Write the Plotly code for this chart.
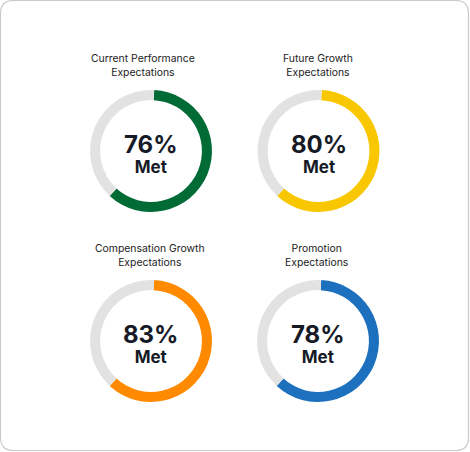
import plotly.graph_objects as go

W, H = 470, 452

titles = ["Current Performance<br>Expectations", "Future Growth<br>Expectations",
          "Compensation Growth<br>Expectations", "Promotion<br>Expectations"]
met_pct = [76, 80, 83, 78]
# share of the ring drawn in colour (percent of circle)
arc_share = [61, 61, 61, 61]
colors = ["#006B35", "#F9C700", "#FF8A00", "#1C70BD"]
track = "#E2E2E2"

centers = [(151, 151), (318.5, 151), (151, 341), (318, 341)]
title_x = [142.5, 318, 149.5, 316.5]
R = 61

fig = go.Figure()
for i in range(4):
    cx, cy = centers[i]
    fig.add_trace(go.Pie(
        values=[arc_share[i], 100 - arc_share[i]],
        marker=dict(colors=[colors[i], track], line=dict(width=0)),
        hole=0.835, sort=False, direction="clockwise", rotation=3,
        textinfo="none", hoverinfo="skip", showlegend=False,
        domain=dict(x=[(cx - R) / W, (cx + R) / W], y=[1 - (cy + R) / H, 1 - (cy - R) / H]),
    ))
    fig.add_annotation(x=title_x[i] / W, y=1 - (cy - 86) / H, xref="paper", yref="paper",
                       text=titles[i], showarrow=False, xanchor="center", yanchor="middle",
                       font=dict(family="Inter", size=10.4, color="#222222"))
    fig.add_annotation(x=cx / W, y=1 - (cy + 2) / H, xref="paper", yref="paper",
                       text=(f"<b><span style='font-size:24px'>{met_pct[i]}%</span><br>"
                             f"<span style='font-size:17px'>Met</span></b>"),
                       showarrow=False, xanchor="center", yanchor="middle",
                       font=dict(family="Inter", size=15, color="#151A26"))

# rounded card border
r = 13
x0, y0, x1, y1 = 0.5, 0.5, W - 1.5, H - 1.5
def px(x): return x / W
def py(y): return 1 - y / H
path = (f"M {px(x0 + r)},{py(y0)} L {px(x1 - r)},{py(y0)} Q {px(x1)},{py(y0)} {px(x1)},{py(y0 + r)} "
        f"L {px(x1)},{py(y1 - r)} Q {px(x1)},{py(y1)} {px(x1 - r)},{py(y1)} "
        f"L {px(x0 + r)},{py(y1)} Q {px(x0)},{py(y1)} {px(x0)},{py(y1 - r)} "
        f"L {px(x0)},{py(y0 + r)} Q {px(x0)},{py(y0)} {px(x0 + r)},{py(y0)} Z")
fig.add_shape(type="path", path=path, xref="paper", yref="paper",
              line=dict(color="#C9C9C9", width=1.2), fillcolor="rgba(0,0,0,0)", layer="below")

fig.update_layout(width=W, height=H, margin=dict(l=0, r=0, t=0, b=0),
                  paper_bgcolor="white", plot_bgcolor="white")
fig.write_html("out.html")
